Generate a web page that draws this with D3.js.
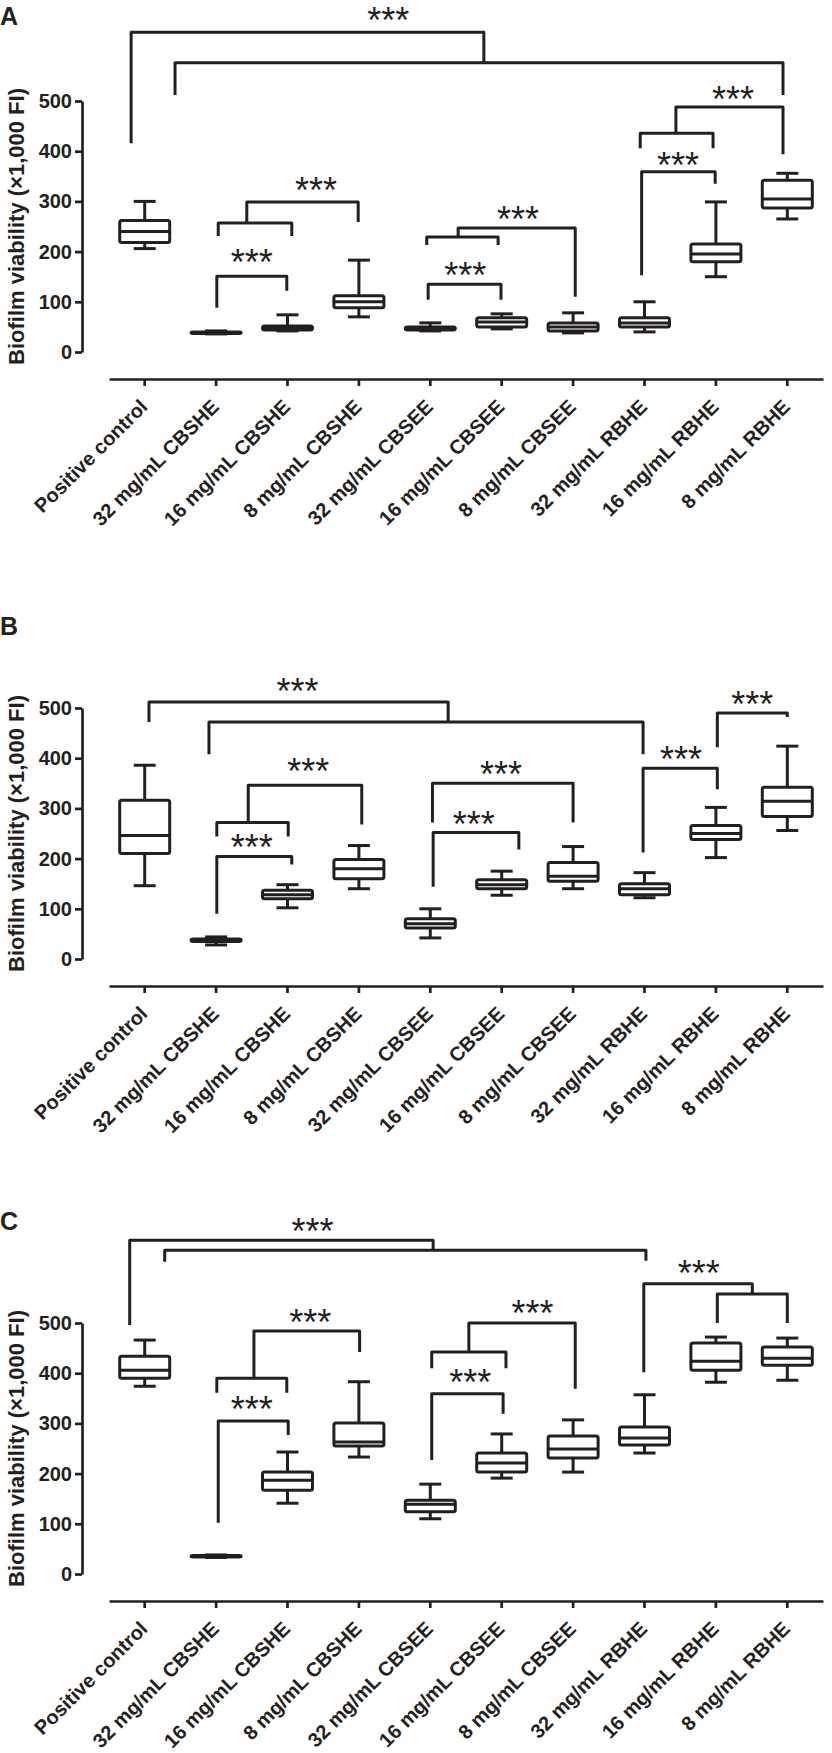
<!DOCTYPE html>
<html lang="en">
  <head>
    <meta charset="utf-8">
    <title>Biofilm viability</title>
    <script src="https://d3js.org/d3.v7.min.js"></script>
    <style>
      body {
        margin: 0;
        background: #ffffff;
      }

      svg {
        display: block;
        background: #ffffff;
      }

      .panel-label {
        font-family: "Liberation Sans", Arial, sans-serif;
        font-weight: bold;
        font-size: 25px;
        fill: #231f20;
      }

      .axis-title {
        font-family: "Liberation Sans", Arial, sans-serif;
        font-weight: bold;
        font-size: 22px;
        fill: #231f20;
      }

      .axis text {
        font-family: "Liberation Sans", Arial, sans-serif;
        font-weight: bold;
        font-size: 20px;
        fill: #231f20;
      }

      .axis path, .axis line {
        stroke: #231f20;
        stroke-width: 2.7px;
      }

      .box rect, .box line {
        stroke: #231f20;
        stroke-width: 3px;
        fill: #ffffff;
        stroke-linejoin: round;
      }

      .bracket {
        fill: none;
        stroke: #231f20;
        stroke-width: 3px;
        stroke-linejoin: round;
      }

      .stars {
        font-family: "Liberation Sans", Arial, sans-serif;
        font-size: 36px;
        fill: #231f20;
      }
    </style>
  </head>

  <body>
    <div id="chart"></div>

    <script type="text/javascript">

    // data

    const categories = [
      "Positive control",
      "32 mg/mL CBSHE", "16 mg/mL CBSHE", "8 mg/mL CBSHE",
      "32 mg/mL CBSEE", "16 mg/mL CBSEE", "8 mg/mL CBSEE",
      "32 mg/mL RBHE", "16 mg/mL RBHE", "8 mg/mL RBHE"
    ];

    const yTicks = [0, 100, 200, 300, 400, 500];

    // panel A
    const minA = [206, 36, 42, 70, 42, 46, 38, 40, 150, 265];
    const q1A  = [218, 37, 44, 88, 44, 50, 42, 50, 180, 287];
    const medA = [240, 38, 47, 100, 46, 60, 50, 58, 195, 305];
    const q3A  = [262, 40, 52, 112, 50, 68, 58, 68, 215, 342];
    const maxA = [300, 42, 74, 183, 58, 76, 78, 100, 299, 356];

    // panel B
    const minB = [146, 28, 102, 140, 42, 127, 140, 122, 202, 256];
    const q1B  = [210, 35, 120, 160, 62, 140, 155, 128, 238, 284];
    const medB = [246, 38, 128, 180, 70, 148, 165, 140, 250, 314];
    const q3B  = [316, 40, 137, 198, 80, 158, 192, 150, 266, 342];
    const maxB = [386, 44, 148, 226, 100, 175, 224, 172, 302, 424];

    // panel C
    const minC = [374, 33, 141, 233, 110, 191, 203, 241, 382, 386];
    const q1C  = [390, 34, 167, 255, 124, 203, 231, 257, 406, 416];
    const medC = [406, 35, 187, 263, 139, 221, 249, 271, 424, 430];
    const q3C  = [434, 37, 203, 301, 147, 241, 275, 293, 460, 452];
    const maxC = [466, 38, 243, 383, 179, 279, 307, 357, 472, 470];

    // significance brackets: [left category idx, right idx, top value, left leg end, right leg end]
    const bracketsA = [
      [-0.19, 4.75, 637, 416, 576],
      [0.425, 8.94, 576, 512, 512],
      [1.43, 2.99, 299, 257, 259],
      [1.03, 2.06, 257, 231, 231],
      [1.01, 1.99, 151, 88, 122],
      [4.39, 6.03, 247, 229, 110],
      [3.95, 4.95, 229, 213, 213],
      [3.97, 4.99, 135, 104, 104],
      [7.44, 8.94, 488, 436, 394],
      [6.94, 7.96, 436, 406, 406],
      [6.96, 7.99, 359, 153, 335]
    ];
    const starsA = [[3.41, 677], [2.40, 339], [1.50, 195], [5.23, 281], [4.49, 169], [8.24, 520], [7.47, 388]];

    const bracketsB = [
      [0.06, 4.25, 512, 472, 472],
      [0.90, 6.98, 472, 408, 408],
      [1.45, 3.04, 346, 272, 268],
      [1.01, 2.01, 272, 244, 244],
      [1.01, 2.06, 204, 90, 188],
      [4.03, 6.00, 350, 272, 272],
      [4.04, 5.24, 252, 144, 218],
      [6.98, 8.02, 380, 212, 338],
      [8.02, 9.00, 490, 422, 482]
    ];
    const starsB = [[2.14, 550], [2.29, 390], [1.50, 238], [4.99, 384], [4.61, 284], [7.51, 414], [8.51, 524]];

    const bracketsC = [
      [-0.21, 4.04, 665, 496, 645],
      [0.28, 7.02, 645, 622, 624],
      [1.53, 3.01, 484, 390, 442],
      [1.01, 1.99, 390, 361, 361],
      [1.03, 2.01, 305, 102, 277],
      [4.54, 6.03, 500, 442, 369],
      [4.02, 5.06, 442, 410, 410],
      [4.02, 5.02, 359, 227, 319],
      [6.99, 8.51, 578, 402, 558],
      [8.02, 9.00, 558, 500, 500]
    ];
    const starsC = [[2.35, 699], [2.32, 518], [1.50, 345], [5.43, 536], [4.56, 398], [7.76, 616]];

    // layout

    const width = 832;
    const height = 1753;
    const axisX = 82;
    const plotHeight = 251;
    const boxWidth = 50;
    const capWidth = 22;

    const panels = [
      {letter: "A", letterY: 25, zero: 352, min: minA, q1: q1A, med: medA, q3: q3A, max: maxA, brackets: bracketsA, stars: starsA},
      {letter: "B", letterY: 635, zero: 959, min: minB, q1: q1B, med: medB, q3: q3B, max: maxB, brackets: bracketsB, stars: starsB},
      {letter: "C", letterY: 1230, zero: 1574, min: minC, q1: q1C, med: medC, q3: q3C, max: maxC, brackets: bracketsC, stars: starsC}
    ];

    const svg = d3.select("#chart")
      .append("svg")
      .attr("width", width)
      .attr("height", height);

    const x = d3.scaleBand()
      .domain(categories)
      .range([109, 823]);

    const xCenter = c => x(c) + x.bandwidth() / 2;

    // fractional category position, for the brackets
    const xi = d3.scaleLinear()
      .domain([0, categories.length - 1])
      .range([xCenter(categories[0]), xCenter(categories[categories.length - 1])]);

    function drawPanel(p) {

      const y = d3.scaleLinear()
        .domain([0, 500])
        .range([p.zero, p.zero - plotHeight]);

      const g = svg.append("g");

      g.append("text")
        .attr("class", "panel-label")
        .attr("x", 0)
        .attr("y", p.letterY)
        .text(p.letter);

      // y axis
      g.append("g")
        .attr("class", "axis")
        .attr("transform", "translate(" + axisX + ",0)")
        .call(d3.axisLeft(y).tickValues(yTicks).tickSize(7).tickSizeOuter(0).tickPadding(3));

      g.append("text")
        .attr("class", "axis-title")
        .attr("transform", "translate(24," + ((y(0) + y(500)) / 2) + ") rotate(-90)")
        .attr("text-anchor", "middle")
        .text("Biofilm viability (\u00d71,000 FI)");

      // x axis, offset below the y range
      const xa = g.append("g")
        .attr("class", "axis")
        .attr("transform", "translate(0," + (p.zero + 27) + ")")
        .call(d3.axisBottom(x).tickSize(7).tickSizeOuter(0));

      xa.selectAll("text")
        .attr("x", 0)
        .attr("y", 0)
        .attr("dy", 0)
        .attr("transform", "translate(4,29) rotate(-45)")
        .style("text-anchor", "end");

      const rows = categories.map((c, i) => ({
        c: c, min: p.min[i], q1: p.q1[i], med: p.med[i], q3: p.q3[i], max: p.max[i]
      }));

      const box = g.selectAll("g.box")
        .data(rows)
        .join("g")
        .attr("class", "box")
        .attr("transform", d => "translate(" + xCenter(d.c) + ",0)");

      box.append("line")
        .attr("x1", 0).attr("x2", 0)
        .attr("y1", d => y(d.max)).attr("y2", d => y(d.q3));

      box.append("line")
        .attr("x1", 0).attr("x2", 0)
        .attr("y1", d => y(d.q1)).attr("y2", d => y(d.min));

      box.append("line")
        .attr("x1", -capWidth / 2).attr("x2", capWidth / 2)
        .attr("y1", d => y(d.max)).attr("y2", d => y(d.max));

      box.append("line")
        .attr("x1", -capWidth / 2).attr("x2", capWidth / 2)
        .attr("y1", d => y(d.min)).attr("y2", d => y(d.min));

      box.append("rect")
        .attr("x", -boxWidth / 2)
        .attr("width", boxWidth)
        .attr("y", d => y(d.q3))
        .attr("height", d => y(d.q1) - y(d.q3))
        .attr("rx", 2);

      box.append("line")
        .attr("x1", -boxWidth / 2).attr("x2", boxWidth / 2)
        .attr("y1", d => y(d.med)).attr("y2", d => y(d.med));

      // brackets
      g.selectAll("path.bracket")
        .data(p.brackets)
        .join("path")
        .attr("class", "bracket")
        .attr("d", b => "M" + xi(b[0]) + "," + y(b[3]) + "V" + y(b[2]) + "H" + xi(b[1]) + "V" + y(b[4]));

      g.selectAll("text.stars")
        .data(p.stars)
        .join("text")
        .attr("class", "stars")
        .attr("x", d => xi(d[0]))
        .attr("y", d => y(d[1]))
        .attr("dy", "0.58em")
        .attr("text-anchor", "middle")
        .text("***");
    }

    panels.forEach(drawPanel);

    </script>
  </body>
</html>
